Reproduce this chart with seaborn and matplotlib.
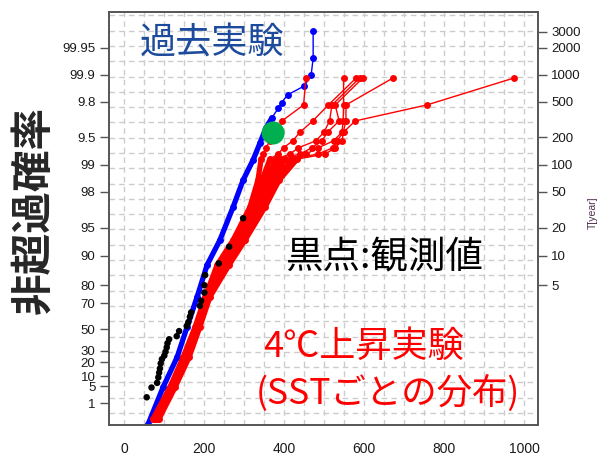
import numpy as np
import pandas as pd
import matplotlib
matplotlib.use("Agg")
import matplotlib.pyplot as plt
import seaborn as sns

# Gumbel probability plot: x = value, y = Gumbel reduced variate  -ln(-ln(F))

# past experiment (blue)
past_x = [472, 472, 467, 450, 408, 393, 385, 369, 354, 339, 322, 297, 272, 239, 207, 182, 157, 132, 97, 60]
past_g = [8.04, 7.33, 6.90, 6.62, 6.39, 6.19, 6.05, 5.80, 5.54, 5.15, 4.72, 4.20, 3.51, 2.66, 2.02, 1.20, 0.43, -0.35, -1.12, -2.06]

# +4K experiment, one curve per SST pattern (red)
warm_g = [6.82, 6.13, 5.72, 5.43, 5.21, 5.03, 4.87, 4.74, 4.20, 3.51, 2.66, 2.02, 1.20, 0.43, -0.35, -1.12, -1.93]
warm_sst1 = [454, 448, 394, 379, 364, 354, 347, 342, 334, 314, 272, 232, 202, 177, 147, 114, 72]
warm_sst2 = [548, 548, 547, 544, 523, 485, 454, 402, 369, 342, 294, 254, 209, 184, 157, 122, 82]
warm_sst3 = [579, 510, 471, 439, 421, 398, 384, 364, 344, 322, 279, 239, 204, 179, 149, 117, 74]
warm_sst4 = [588, 519, 513, 499, 479, 435, 414, 379, 354, 329, 287, 247, 207, 182, 152, 119, 77]
warm_sst5 = [596, 527, 537, 508, 494, 469, 439, 389, 359, 334, 289, 249, 209, 182, 154, 119, 79]
warm_sst6 = [671, 554, 554, 547, 532, 521, 484, 419, 379, 347, 299, 259, 212, 187, 159, 124, 84]
warm_sst7 = [973, 756, 577, 548, 544, 527, 502, 432, 387, 352, 302, 262, 214, 189, 162, 127, 87]

# observations (black)
obs_x = [56, 68, 82, 85, 87, 89, 91, 94, 100, 103, 106, 108, 112, 131, 137, 156, 160,
         164, 167, 189, 192, 200, 200, 202, 236, 262, 297]
obs_g = [-1.38, -1.13, -1.01, -0.87, -0.75, -0.64, -0.51, -0.40, -0.31, -0.21, -0.10, 0.01,
         0.11, 0.19, 0.32, 0.45, 0.55, 0.69, 0.80, 0.97, 1.10, 1.31, 1.50, 1.76, 2.06, 2.49, 3.22]

# highlighted event (green)
event_x = [372]
event_g = [5.41]

prob_ticks = [1, 5, 10, 20, 30, 50, 70, 80, 90, 95, 98, 99, 99.5, 99.8, 99.9, 99.95]
prob_labels = ["1", "5", "10", "20", "30", "50", "70", "80", "90", "95", "98", "99",
               "9.5", "9.8", "99.9", "99.95"]
period_ticks = [5, 10, 20, 50, 100, 200, 500, 1000, 2000, 3000]
x_ticks = [0, 200, 400, 600, 800, 1000]

sns.set_style("white")
plt.rcParams["font.family"] = ["Liberation Sans", "Noto Sans CJK JP", "DejaVu Sans"]
cjk = ["Noto Sans CJK JP", "DejaVu Sans"]

past = pd.DataFrame({"x": past_x, "g": past_g, "run": 0})
warm_curves = [warm_sst1, warm_sst2, warm_sst3, warm_sst4, warm_sst5, warm_sst6, warm_sst7]
warm = pd.concat([pd.DataFrame({"x": c, "g": warm_g, "sst": i}) for i, c in enumerate(warm_curves)],
                 ignore_index=True)

fig = plt.figure(figsize=(6.01, 4.62), dpi=100)
ax = fig.add_axes([108.7 / 601, 1 - 425 / 462, (538 - 108.7) / 601, (425 - 12) / 462])
ax.set_xlim(-39, 1034)
ax.set_ylim(-2.092, 8.519)

# dashed grid
for v in range(0, 1001, 50):
    ax.axvline(v, color="#cccccc", lw=1, ls=(0, (4, 3)), zorder=0)
for h in np.arange(8.433, -2.1, -0.393):
    ax.axhline(h, color="#cccccc", lw=1, ls=(0, (4, 3)), zorder=0)

# past experiment
sns.lineplot(data=past[past.g <= 5.8], x="x", y="g", units="run", estimator=None, sort=False,
             color="blue", lw=3.8, ax=ax, zorder=2)
sns.lineplot(data=past, x="x", y="g", units="run", estimator=None, sort=False, color="blue",
             lw=1, marker="o", markersize=5, markeredgewidth=0, ax=ax, zorder=2)

# +4K experiment
sns.lineplot(data=warm[warm.g <= 4.75], x="x", y="g", units="sst", estimator=None, sort=False,
             color="red", lw=3.8, ax=ax, zorder=3)
sns.lineplot(data=warm, x="x", y="g", units="sst", estimator=None, sort=False, color="red",
             lw=1, marker="o", markersize=5, markeredgewidth=0, ax=ax, zorder=3)

# observations and event
sns.scatterplot(x=obs_x, y=obs_g, color="black", s=22, edgecolor="none", ax=ax, zorder=4)
sns.scatterplot(x=event_x, y=event_g, color="#00b050", s=275, edgecolor="none", ax=ax, zorder=5)

ax.set_xlabel("")
ax.set_ylabel("")
ax.set_xticks(x_ticks)
ax.set_xticklabels([str(t) for t in x_ticks])
ax.set_yticks([-np.log(-np.log(p / 100)) for p in prob_ticks])
ax.set_yticklabels(prob_labels)

ax2 = ax.twinx()
ax2.set_ylim(ax.get_ylim())
ax2.set_yticks([-np.log(-np.log(1 - 1 / t)) for t in period_ticks])
ax2.set_yticklabels([str(t) for t in period_ticks])

for a in (ax, ax2):
    for s in a.spines.values():
        s.set_visible(True)
        s.set_color("#555555")
        s.set_linewidth(1.2)
    a.tick_params(direction="out", length=6.5, width=1, color="#555555",
                  labelsize=9.5, labelcolor="#1a1a1a", pad=3)
ax.tick_params(axis="x", labelsize=10, pad=6)

ax.text(218, 7.72, "過去実験", color="#1c4a9c", fontsize=26, family=cjk, ha="center", va="center", zorder=6)
ax.text(649, 2.22, "黒点:観測値", color="black", fontsize=27, family=cjk, ha="center", va="center", zorder=6)
ax.text(597, -0.09, "4℃上昇実験", color="red", fontsize=26, family=cjk, ha="center", va="center", zorder=6)
ax.text(660, -1.27, "(SSTごとの分布)", color="red", fontsize=25.5, family=cjk, ha="center", va="center", zorder=6)

fig.text(34 / 601, 1 - 210 / 462, "非超過確率", rotation=90, fontsize=30, fontweight="bold",
         family=cjk, ha="center", va="center")
fig.text(593 / 601, 1 - 213 / 462, "T[year]", rotation=90, fontsize=7.5, color="#503050",
         ha="center", va="center")

fig.savefig("out.png", dpi=100)
